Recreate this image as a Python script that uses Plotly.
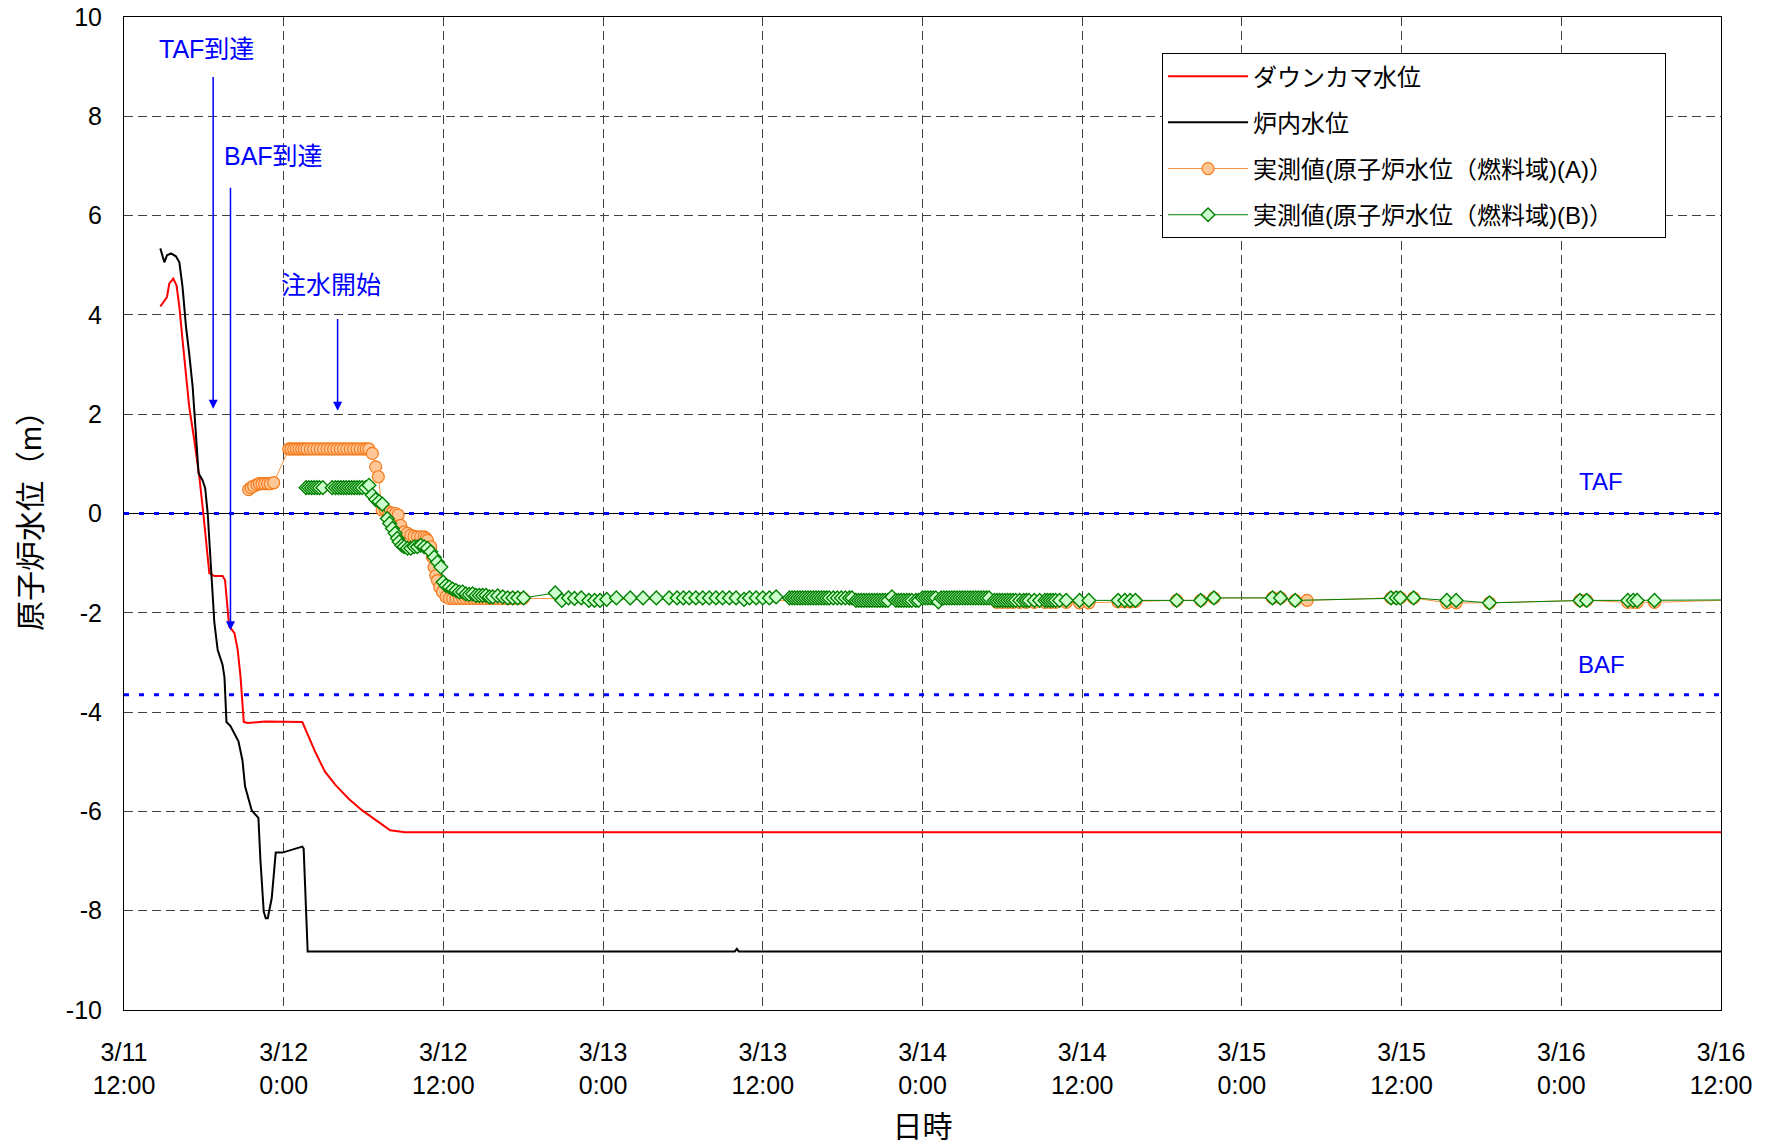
import pandas as pd
import plotly.graph_objects as go

# ---------------- data (hours elapsed since 2011-03-11 12:00) ----------------
START = "2011-03-11 12:00"

# ダウンカマ水位 (downcomer level)
dc_hours = [2.73, 3.03, 3.23, 3.40, 3.70, 3.95, 4.16, 4.40, 4.66, 4.90,
            5.28, 5.66, 5.96, 6.20, 6.41, 6.79, 7.41, 7.59, 7.90, 8.30,
            8.54, 8.75, 9.00, 9.30, 10.60, 13.40, 13.90, 14.40, 15.10, 15.90,
            16.90, 17.90, 18.90, 20.00, 21.10, 120.0]
dc_level = [4.17, 4.29, 4.36, 4.63, 4.73, 4.59, 4.16, 3.49, 2.82, 2.15,
            1.48, 0.74, 0.00, -0.67, -1.20, -1.26, -1.26, -1.34, -2.27, -2.41,
            -2.74, -3.27, -4.20, -4.22, -4.19, -4.20, -4.50, -4.82, -5.20, -5.47,
            -5.75, -5.98, -6.17, -6.38, -6.42, -6.42]

# 炉内水位 (core level)
core_hours = [2.73, 2.95, 3.03, 3.23, 3.53, 3.90, 4.16, 4.40, 4.66, 4.90,
              5.16, 5.40, 5.60, 5.90, 6.10, 6.29, 6.54, 6.79, 7.04, 7.40,
              7.55, 7.70, 8.00, 8.60, 8.90, 9.10, 9.60, 10.10, 10.25, 10.50,
              10.65, 10.80, 11.10, 11.40, 11.90, 13.40, 13.50, 13.80, 45.90, 46.05,
              46.20, 120.0]
core_level = [5.34, 5.10, 5.06, 5.20, 5.24, 5.18, 5.06, 4.56, 3.76, 3.22,
              2.55, 1.61, 0.81, 0.67, 0.51, 0.00, -1.07, -2.20, -2.75, -3.04,
              -3.30, -4.20, -4.28, -4.59, -4.97, -5.50, -5.98, -6.13, -6.98, -8.02,
              -8.15, -8.15, -7.75, -6.83, -6.83, -6.71, -6.75, -8.82, -8.82, -8.77,
              -8.82, -8.82]

# 実測値(原子炉水位(燃料域)(A)) : (hour, level)
a_points = [
    (9.36, 0.48), (9.55, 0.52), (9.74, 0.55), (9.99, 0.58), (10.17, 0.60),
    (10.37, 0.60), (10.57, 0.60), (10.79, 0.60), (10.99, 0.60), (11.25, 0.62),
    (12.38, 1.30), (12.55, 1.30), (12.75, 1.30), (12.95, 1.30), (13.15, 1.30),
    (13.35, 1.30), (13.55, 1.30), (13.75, 1.30), (14.00, 1.30), (14.25, 1.30),
    (14.50, 1.30), (14.75, 1.30), (15.00, 1.30), (15.25, 1.30), (15.50, 1.30),
    (15.75, 1.30), (16.00, 1.30), (16.25, 1.30), (16.50, 1.30), (16.75, 1.30),
    (17.00, 1.30), (17.25, 1.30), (17.50, 1.30), (17.75, 1.30), (18.00, 1.30),
    (18.20, 1.30), (18.40, 1.30), (18.66, 1.21), (18.91, 0.94), (19.11, 0.74),
    (19.40, 0.07), (19.65, 0.07), (19.90, 0.03), (20.15, 0.01), (20.40, 0.00),
    (20.60, -0.03), (20.79, -0.24), (21.05, -0.37), (21.30, -0.40), (21.55, -0.44),
    (21.80, -0.46), (22.05, -0.47), (22.30, -0.47), (22.55, -0.47), (22.70, -0.50),
    (22.80, -0.54), (23.05, -0.67), (23.18, -0.88), (23.30, -1.08), (23.43, -1.25),
    (23.56, -1.35), (23.73, -1.48), (23.93, -1.58), (24.20, -1.68), (24.45, -1.71),
    (24.70, -1.71), (24.95, -1.71), (25.20, -1.71), (25.45, -1.71), (25.70, -1.71),
    (25.95, -1.71), (26.20, -1.71), (26.45, -1.71), (26.70, -1.71), (26.95, -1.71),
    (27.20, -1.71), (27.50, -1.71), (27.80, -1.71), (28.10, -1.71), (28.40, -1.71),
    (28.70, -1.71), (29.00, -1.71), (29.30, -1.71), (29.60, -1.71), (30.00, -1.71),
    (65.60, -1.79), (66.00, -1.79), (66.40, -1.79), (66.80, -1.79), (67.30, -1.79),
    (67.80, -1.79), (68.40, -1.79), (69.20, -1.79), (69.60, -1.79), (70.00, -1.79),
    (70.80, -1.79), (71.80, -1.80), (72.50, -1.80), (74.70, -1.78), (75.20, -1.78),
    (75.60, -1.78), (76.00, -1.77), (79.10, -1.75), (80.90, -1.75), (81.90, -1.70),
    (86.30, -1.70), (86.90, -1.70), (88.00, -1.75), (88.90, -1.75), (95.20, -1.70),
    (95.60, -1.70), (95.90, -1.70), (96.90, -1.70), (99.40, -1.80), (100.10, -1.80),
    (102.60, -1.80), (109.40, -1.75), (109.90, -1.75), (113.00, -1.79), (113.40, -1.79),
    (113.70, -1.79), (115.00, -1.79), (121.00, -1.74),
]

# 実測値(原子炉水位(燃料域)(B)) : (hour, level)
b_points = [
    (13.68, 0.52), (13.88, 0.52), (14.09, 0.52), (14.29, 0.52), (14.49, 0.52),
    (14.69, 0.52), (14.94, 0.52), (15.64, 0.52), (15.89, 0.52), (16.10, 0.52),
    (16.30, 0.52), (16.50, 0.52), (16.70, 0.52), (16.90, 0.52), (17.10, 0.52),
    (17.30, 0.52), (17.50, 0.52), (17.70, 0.52), (17.90, 0.52), (18.16, 0.52),
    (18.41, 0.57), (18.66, 0.37), (18.91, 0.28), (19.16, 0.24), (19.41, 0.19),
    (19.79, -0.10), (19.96, -0.20), (20.17, -0.30), (20.37, -0.40), (20.54, -0.50),
    (20.67, -0.57), (20.87, -0.64), (21.05, -0.67), (21.30, -0.70), (21.55, -0.70),
    (21.80, -0.67), (22.05, -0.67), (22.30, -0.64), (22.55, -0.67), (22.80, -0.70),
    (23.05, -0.77), (23.31, -0.88), (23.56, -0.98), (23.81, -1.08), (23.98, -1.38),
    (24.19, -1.45), (24.44, -1.48), (24.69, -1.52), (24.94, -1.55), (25.19, -1.58),
    (25.44, -1.58), (25.69, -1.62), (25.94, -1.63), (26.20, -1.62), (26.45, -1.65),
    (26.70, -1.65), (26.95, -1.65), (27.20, -1.65), (27.45, -1.68), (27.70, -1.68),
    (28.08, -1.66), (28.46, -1.68), (28.83, -1.70), (29.21, -1.70), (29.59, -1.70),
    (30.02, -1.70), (32.40, -1.60), (32.90, -1.75), (33.40, -1.70), (33.85, -1.71),
    (34.36, -1.70), (34.93, -1.75), (35.36, -1.75), (35.77, -1.75), (36.27, -1.73),
    (37.00, -1.70), (38.04, -1.70), (39.00, -1.70), (40.00, -1.70), (40.96, -1.70),
    (41.56, -1.70), (42.03, -1.70), (42.47, -1.70), (42.97, -1.70), (43.48, -1.70),
    (43.98, -1.70), (44.48, -1.70), (44.98, -1.70), (45.49, -1.70), (45.99, -1.70),
    (46.59, -1.73), (47.00, -1.70), (47.50, -1.70), (48.00, -1.70), (48.50, -1.70),
    (49.00, -1.68), (50.00, -1.70), (50.20, -1.70), (50.40, -1.70), (50.60, -1.70),
    (50.80, -1.70), (51.00, -1.70), (51.20, -1.70), (51.40, -1.70), (51.60, -1.70),
    (51.80, -1.70), (52.00, -1.70), (52.20, -1.70), (52.40, -1.70), (52.60, -1.70),
    (52.80, -1.70), (53.00, -1.70), (53.30, -1.70), (53.60, -1.70), (53.90, -1.70),
    (54.20, -1.70), (54.50, -1.70), (54.70, -1.70), (55.00, -1.75), (55.20, -1.75),
    (55.40, -1.75), (55.60, -1.75), (55.80, -1.75), (56.00, -1.75), (56.20, -1.75),
    (56.40, -1.75), (56.60, -1.75), (56.80, -1.75), (57.00, -1.75), (57.20, -1.75),
    (57.40, -1.75), (57.70, -1.68), (58.00, -1.75), (58.20, -1.75), (58.40, -1.75),
    (58.60, -1.75), (58.80, -1.75), (59.00, -1.75), (59.20, -1.75), (59.50, -1.75),
    (59.70, -1.75), (60.00, -1.70), (60.20, -1.70), (60.40, -1.70), (60.60, -1.70),
    (60.80, -1.70), (61.00, -1.70), (61.20, -1.78), (61.40, -1.70), (61.60, -1.70),
    (61.80, -1.70), (62.00, -1.70), (62.20, -1.70), (62.40, -1.70), (62.60, -1.70),
    (62.80, -1.70), (63.00, -1.70), (63.20, -1.70), (63.40, -1.70), (63.60, -1.70),
    (63.80, -1.70), (64.00, -1.70), (64.20, -1.70), (64.40, -1.70), (64.60, -1.70),
    (64.80, -1.70), (65.00, -1.70), (65.40, -1.75), (65.60, -1.75), (65.80, -1.75),
    (66.00, -1.75), (66.20, -1.75), (66.40, -1.75), (66.60, -1.75), (66.80, -1.75),
    (67.00, -1.75), (67.30, -1.75), (67.60, -1.75), (67.80, -1.75), (68.00, -1.75),
    (68.40, -1.75), (68.80, -1.75), (69.20, -1.75), (69.40, -1.75), (69.60, -1.75),
    (69.80, -1.75), (70.00, -1.75), (70.30, -1.75), (70.80, -1.75), (71.80, -1.75),
    (72.50, -1.75), (74.70, -1.75), (75.20, -1.75), (75.60, -1.75), (76.00, -1.75),
    (79.10, -1.75), (80.90, -1.75), (81.90, -1.70), (86.30, -1.70), (86.90, -1.70),
    (88.00, -1.75), (95.20, -1.70), (95.60, -1.70), (95.90, -1.70), (96.90, -1.70),
    (99.40, -1.75), (100.10, -1.75), (102.60, -1.80), (109.40, -1.75), (109.90, -1.75),
    (113.00, -1.75), (113.40, -1.75), (113.70, -1.75), (115.00, -1.75), (121.00, -1.74),
]

# reference levels
TAF_LEVEL = 0.0
BAF_LEVEL = -3.65
level_labels = ["TAF", "BAF"]
level_values = [TAF_LEVEL, BAF_LEVEL]
level_label_hour = 111.0
level_label_y = [0.64, -3.05]

# events : label, hour, label level, arrow top, arrow tip
event_labels = ["TAF到達", "BAF到達", "注水開始"]
event_hours = [6.70, 8.00, 16.05]
event_label_hour = [6.17, 11.25, 15.55]
event_label_level = [9.35, 7.20, 4.60]
event_arrow_top = [8.82, 6.59, 3.95]
event_arrow_tip = [2.11, -2.35, 2.07]

tick_hours = [0, 12, 24, 36, 48, 60, 72, 84, 96, 108, 120]
tick_labels = ["3/11<br>12:00", "3/12<br>0:00", "3/12<br>12:00", "3/13<br>0:00",
               "3/13<br>12:00", "3/14<br>0:00", "3/14<br>12:00", "3/15<br>0:00",
               "3/15<br>12:00", "3/16<br>0:00", "3/16<br>12:00"]
y_ticks = [-10, -8, -6, -4, -2, 0, 2, 4, 6, 8, 10]

series_names = ["ダウンカマ水位", "炉内水位",
                "実測値(原子炉水位（燃料域)(A)）", "実測値(原子炉水位（燃料域)(B)）"]

# ---------------- helpers ----------------
T0 = pd.Timestamp(START)


def at(h):
    return (T0 + pd.Timedelta(hours=h)).strftime("%Y-%m-%d %H:%M:%S")


def times(hours):
    return [at(h) for h in hours]


a_hours, a_level = zip(*a_points)
b_hours, b_level = zip(*b_points)

FONT = "Liberation Sans, Arial, Noto Sans CJK JP, sans-serif"
BLUE = "#0000FF"
PAD = "\u00a0" * 7   # right padding inside legend box

fig = go.Figure()

# TAF / BAF reference lines across the whole time axis
x_span = [at(tick_hours[0]), at(tick_hours[-1])]
for lv in level_values:
    fig.add_trace(go.Scatter(x=x_span, y=[lv, lv], mode="lines", showlegend=False,
                             hoverinfo="skip",
                             line=dict(color=BLUE, width=3, dash="5px,10px")))

fig.add_trace(go.Scatter(x=times(dc_hours), y=dc_level, mode="lines", name=series_names[0],
                         legendgroup="g1", line=dict(color="#FF0000", width=2)))
fig.add_trace(go.Scatter(x=times(core_hours), y=core_level, mode="lines", name=series_names[1],
                         legendgroup="g2", line=dict(color="#000000", width=2)))
fig.add_trace(go.Scatter(x=times(a_hours), y=list(a_level), mode="lines+markers",
                         name=series_names[2] + PAD, legendgroup="g3",
                         line=dict(color="#F99240", width=1),
                         marker=dict(symbol="circle", size=12, color="#FFC796",
                                     line=dict(color="#F57A1C", width=1.2))))
fig.add_trace(go.Scatter(x=times(b_hours), y=list(b_level), mode="lines+markers",
                         name=series_names[3] + PAD, legendgroup="g4",
                         line=dict(color="#008000", width=1),
                         marker=dict(symbol="diamond", size=10.5, color="#CCFFCC",
                                     line=dict(color="#008000", width=1.4))))

for lab, lv in zip(level_labels, level_label_y):
    fig.add_annotation(x=at(level_label_hour), y=lv, text=lab, showarrow=False,
                       font=dict(color=BLUE, size=24))

# event arrows and labels
for lab, h, lh, ll, top, tip in zip(event_labels, event_hours, event_label_hour,
                                    event_label_level, event_arrow_top, event_arrow_tip):
    fig.add_annotation(x=at(h), y=tip, ax=at(h), ay=top, xref="x", yref="y",
                       axref="x", ayref="y", text="", showarrow=True,
                       arrowhead=2, arrowsize=1.2, arrowwidth=1.5, arrowcolor=BLUE)
    fig.add_annotation(x=at(lh), y=ll, text=lab, showarrow=False,
                       font=dict(color=BLUE, size=25))

fig.update_layout(
    width=1773, height=1143,
    margin=dict(l=124, r=52, t=17, b=133),
    paper_bgcolor="white", plot_bgcolor="white",
    font=dict(family=FONT, size=25, color="black"),
    legend=dict(x=0.65, y=0.9637, xanchor="left", yanchor="top",
                bgcolor="white", bordercolor="black", borderwidth=1,
                font=dict(size=24), tracegroupgap=12, itemwidth=80),
)

fig.update_xaxes(
    type="date", range=[at(0), at(120)], automargin=False,
    tickvals=times(tick_hours), ticktext=tick_labels,
    showgrid=True, gridcolor="#404040", gridwidth=1, griddash="9px,5px",
    showline=True, linecolor="black", linewidth=1, mirror=True,
    ticks="", ticklabelstandoff=20, zeroline=False,
    title=dict(text="日時", font=dict(size=30), standoff=22),
)
fig.update_yaxes(
    range=[-10, 10], tickvals=y_ticks, ticktext=[str(v) for v in y_ticks],
    automargin=False,
    showgrid=True, gridcolor="#404040", gridwidth=1, griddash="9px,5px",
    showline=True, linecolor="black", linewidth=1, mirror=True,
    ticks="", ticklabelstandoff=16,
    zeroline=True, zerolinecolor="black", zerolinewidth=1,
    title=dict(text="原子炉水位（m）", font=dict(size=30), standoff=15),
)

fig.write_html("out.html", config={"displayModeBar": False},
               post_script="document.body.style.margin='0';document.body.style.overflow='hidden';")
